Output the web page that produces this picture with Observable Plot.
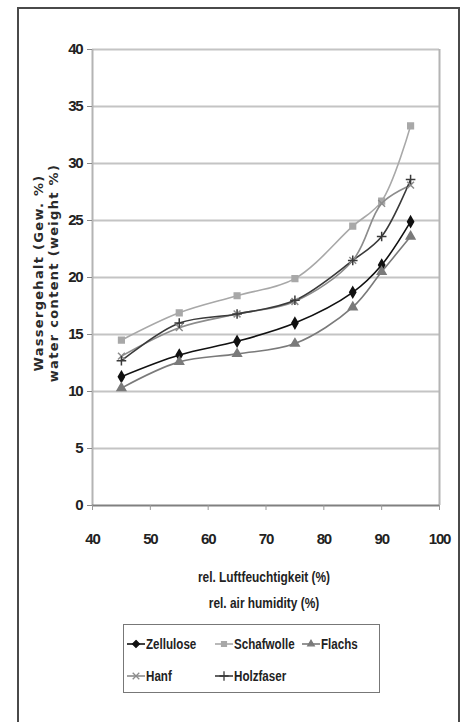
<!DOCTYPE html>
<html><head><meta charset="utf-8">
<script src="https://cdn.jsdelivr.net/npm/d3@7"></script>
<script src="https://cdn.jsdelivr.net/npm/@observablehq/plot@0.6"></script>
<style>
body{margin:0;background:#fff;}
#wrap{position:relative;width:466px;height:722px;overflow:hidden;background:#fff;}
#frame{position:absolute;left:17px;top:7px;width:443px;height:730px;border:2px solid #4a4a4a;box-sizing:border-box;}
.nar{font-family:"Liberation Sans Narrow","Arial Narrow","Liberation Sans",sans-serif;font-weight:bold;color:#222;}
.ylab{position:absolute;font-family:"DejaVu Sans",Verdana,sans-serif;font-weight:bold;font-size:13px;letter-spacing:1.3px;color:#2a2a2a;white-space:nowrap;transform:translate(-50%,-50%) rotate(-90deg);}
.xlab{position:absolute;font-size:14.5px;white-space:nowrap;transform:translate(-50%,-50%) scaleX(0.82);}
#legend{position:absolute;left:123px;top:624px;width:257px;height:69px;border:1.5px solid #777;box-sizing:border-box;}
.li{position:absolute;display:flex;align-items:center;font-size:14.5px;}
.li span{display:inline-block;transform:scaleX(0.8);transform-origin:left center;}
.li svg{margin-right:0px;}
</style></head>
<body>
<div id="wrap">
<div id="frame"></div>
<div id="chart"></div>
<div class="ylab" style="left:38px;top:273px;">Wassergehalt (Gew. %)</div>
<div class="ylab" style="left:53px;top:273px;">water content (weight %)</div>
<div class="xlab nar" style="left:264px;top:577px;">rel. Luftfeuchtigkeit (%)</div>
<div class="xlab nar" style="left:264px;top:603px;">rel. air humidity (%)</div>
<div id="legend"></div>
</div>
<script>
const humidity = [45, 55, 65, 75, 85, 90, 95];
const seriesNames = ["Zellulose", "Schafwolle", "Flachs", "Hanf", "Holzfaser"];
const zellulose  = [11.3, 13.2, 14.4, 16.0, 18.7, 21.1, 24.9];
const schafwolle = [14.5, 16.9, 18.4, 19.9, 24.5, 26.7, 33.3];
const flachs     = [10.3, 12.6, 13.3, 14.2, 17.4, 20.5, 23.6];
const hanf       = [13.1, 15.6, 16.8, 17.9, 21.5, 26.5, 28.1];
const holzfaser  = [12.7, 16.0, 16.8, 18.0, 21.5, 23.6, 28.6];
const xTicks = [40, 50, 60, 70, 80, 90, 100];
const yTicks = [0, 5, 10, 15, 20, 25, 30, 35, 40];

const colors = ["#111111", "#a8a8a8", "#7a7a7a", "#8c8c8c", "#3a3a3a"];
const symbols = ["diamond", "square", "triangle", "times", "plus"];
const values = [zellulose, schafwolle, flachs, hanf, holzfaser];

const data = [];
seriesNames.forEach((s, i) => humidity.forEach((h, j) => data.push({series: s, x: h, y: values[i][j]})));

const font = '"Liberation Sans Narrow","Arial Narrow","Liberation Sans",sans-serif';
const chart = Plot.plot({
  width: 466, height: 560,
  marginLeft: 92, marginRight: 27, marginTop: 49, marginBottom: 55,
  style: {fontFamily: font, fontWeight: "bold", fontSize: "15px", color: "#222", background: "transparent", letterSpacing: "-1.2px"},
  x: {domain: [40, 100], ticks: xTicks, label: null},
  y: {domain: [0, 40], ticks: yTicks, label: null},
  color: {domain: seriesNames, range: colors},
  symbol: {domain: seriesNames, range: symbols},
  marks: [
    Plot.ruleY(yTicks.filter(d => d > 0), {stroke: "#c4c4c4", strokeWidth: 2}),
    Plot.ruleX([40, 100], {stroke: "#b4b4b4", strokeWidth: 2}),
    Plot.ruleY([0], {stroke: "#808080", strokeWidth: 2}),
    Plot.axisY({ticks: yTicks, tickSize: 5, tickPadding: 5, stroke: "#888", fontSize: 15}),
    Plot.axisX({ticks: xTicks, tickSize: 5, tickPadding: 23, stroke: "#999", fontSize: 15}),
    Plot.line(data, {x: "x", y: "y", z: "series", stroke: "series", strokeWidth: 1.6, curve: "catmull-rom"}),
    Plot.dot(data, {x: "x", y: "y", symbol: "series", stroke: "series", fill: "series", r: 3.2, strokeWidth: 1.5})
  ]
});
chart.style.position = "absolute";
chart.style.left = "0px";
chart.style.top = "0px";
document.getElementById("chart").appendChild(chart);

// legend
const legend = document.getElementById("legend");
const pos = [[2, 19], [90, 19], [177, 19], [2, 51], [90, 51]];
const d3syms = [d3.symbolDiamond2, d3.symbolSquare2, d3.symbolTriangle2, d3.symbolTimes, d3.symbolPlus];
seriesNames.forEach((s, i) => {
  const d = document.createElement("div");
  d.className = "li nar";
  d.style.left = pos[i][0] + "px";
  d.style.top = (pos[i][1] - 10) + "px";
  const sym = d3.symbol(d3syms[i], 30)();
  d.innerHTML = `<svg width="20" height="20"><line x1="1" x2="19" y1="10" y2="10" stroke="${colors[i]}" stroke-width="1.6"/><path d="${sym}" transform="translate(10,10)" fill="${colors[i]}" stroke="${colors[i]}" stroke-width="1.3"/></svg><span>${s}</span>`;
  legend.appendChild(d);
});
</script>
</body></html>
